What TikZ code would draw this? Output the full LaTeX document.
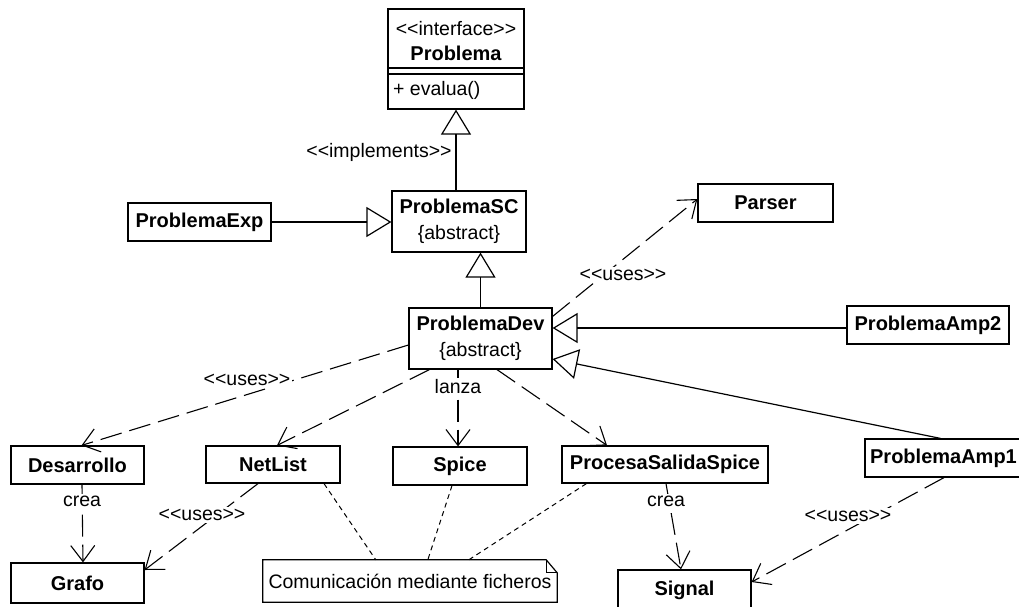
\documentclass[tikz,border=0pt]{standalone}
\usepackage{fontspec}
\setmainfont{Liberation Sans}
\usetikzlibrary{arrows.meta,calc}

% stereotype brackets, kept apart so they stay two characters each
\newcommand{\stereo}[1]{<{}<#1>{}>}

\begin{document}
\begin{tikzpicture}[x=1pt,y=-1pt,
  txt/.style={font=\fontsize{19.5}{26}\selectfont, inner sep=1pt},
  cls/.style={draw, line width=1.2pt, fill=white, inner sep=0pt, align=center,
              font=\fontsize{20}{26}\selectfont\bfseries},
  lbl/.style={txt, fill=white, inner sep=2pt},
  gen/.style={line width=1.2pt, -{Triangle[open, length=25pt, width=30pt]}},
  dep/.style={line width=1.1pt, dash pattern=on 22pt off 8pt,
              -{Straight Barb[length=16pt, width=24pt]}},
  noteline/.style={line width=1pt, dash pattern=on 5pt off 4pt},
]
\fill[white] (0,0) rectangle (1019,606);
\useasboundingbox (0,0) rectangle (1019,606);
\clip (0,0) rectangle (1019,606);

% interface box
\node[cls, minimum width=136pt, minimum height=100pt] (problema) at (456,59) {};
\node[txt] (stereo) at (456,29) {\stereo{interface}};
\node[txt, font=\fontsize{20}{26}\selectfont\bfseries] (pname) at (456,53) {Problema};
\node[txt, anchor=west] (op) at (392,90) {+ evalua()};
\draw[line width=1.2pt] (problema.west |- 0,68) -- (problema.east |- 0,68);
\draw[line width=1.2pt] (problema.west |- 0,74) -- (problema.east |- 0,74);

% classes
\node[cls, minimum width=134pt, minimum height=61pt] (sc) at (459,221.5)
  {ProblemaSC\\\mdseries\fontsize{19.5}{26}\selectfont\{abstract\}};
\node[cls, minimum width=143pt, minimum height=38pt] (exp) at (199.5,222) {ProblemaExp};
\node[cls, minimum width=143pt, minimum height=61pt] (dev) at (480.5,338.5)
  {ProblemaDev\\\mdseries\fontsize{19.5}{26}\selectfont\{abstract\}};
\node[cls, minimum width=135pt, minimum height=38pt] (parser) at (765.5,203) {Parser};
\node[cls, minimum width=162pt, minimum height=38pt] (amp2) at (928,325) {ProblemaAmp2};
\node[cls, minimum width=157pt, minimum height=38pt] (amp1) at (943.5,458) {ProblemaAmp1};
\node[cls, minimum width=133pt, minimum height=38pt] (desarrollo) at (77.5,465) {Desarrollo};
\node[cls, minimum width=134pt, minimum height=37pt] (netlist) at (273,464.5) {NetList};
\node[cls, minimum width=134pt, minimum height=38pt] (spice) at (460,466) {Spice};
\node[cls, minimum width=206pt, minimum height=37pt] (pss) at (665,464.5) {ProcesaSalidaSpice};
\node[cls, minimum width=133pt, minimum height=40pt] (grafo) at (77.5,583) {Grafo};
\node[cls, minimum width=133pt, minimum height=40pt] (signal) at (684.5,590) {Signal};

% note with folded corner
\node[txt, minimum width=294pt, minimum height=42pt] (note) at (410,581) {Comunicación mediante ficheros};
\draw[line width=1.2pt] (note.north west) -- ($(note.north east)+(-11,0)$)
  -- ($(note.north east)+(0,13)$) -- (note.south east) -- (note.south west) -- cycle;
\draw[line width=1pt] ($(note.north east)+(-11,0)$) |- ($(note.north east)+(0,13)$);

% generalisation / realisation
\draw[gen] (sc.north -| problema.south) -- (problema.south);
\draw[gen] (exp.east) -- (sc.west |- exp.east);
\draw[gen] (dev.north) -- (dev.north |- sc.south);
\draw[gen] ($(amp2.west)+(0,3)$) -- ($(dev.east)+(0,-10.5)$);
\draw[gen] ($(amp1.north)+(-3,0)$) -- ($(dev.east)+(0,20.5)$);

% dependencies
\draw[dep] ($(dev.north east)+(0,9)$) -- ($(parser.west)+(0,-4)$);
\draw[dep] ($(dev.west)+(0,6.5)$) -- ($(desarrollo.north)+(4,0)$);
\draw[dep] ($(dev.south west)+(21,0)$) -- ($(netlist.north)+(4,0)$);
\draw[dep] ($(dev.south)+(-22.5,0)$) -- ($(spice.north)+(-2,0)$);
\draw[dep] ($(dev.south)+(16.5,0)$) -- ($(pss.north)+(-58,0)$);
\draw[dep] ($(desarrollo.south)+(4.5,0)$) -- ($(grafo.north)+(5.5,0)$);
\draw[dep] ($(netlist.south)+(-15,0)$) -- ($(grafo.east)+(0,-13)$);
\draw[dep] ($(pss.south)+(1,0)$) -- ($(signal.north)+(-3.5,0)$);
\draw[dep] ($(amp1.south)+(0.5,0)$) -- ($(signal.east)+(0,-8)$);

% note anchors
\draw[noteline] ($(netlist.south)+(51,0)$) -- ($(note.north west)+(113,0)$);
\draw[noteline] ($(spice.south)+(-8,0)$) -- ($(note.north west)+(165,0)$);
\draw[noteline] ($(pss.south west)+(25,0)$) -- ($(note.north west)+(206,0)$);

% connector labels
\node[txt] (limpl) at (379,152) {\stereo{implements}};
\node[lbl] (lparser) at (623,275) {\stereo{uses}};
\node[lbl] (ldes) at (247,380) {\stereo{uses}};
\node[lbl] (llanza) at (458,387) {lanza};
\node[lbl] (lcrea1) at (82,501) {crea};
\node[lbl] (lgrafo) at (202,515) {\stereo{uses}};
\node[lbl] (lcrea2) at (666,501) {crea};
\node[lbl] (lsignal) at (848,516) {\stereo{uses}};
\end{tikzpicture}
\end{document}
